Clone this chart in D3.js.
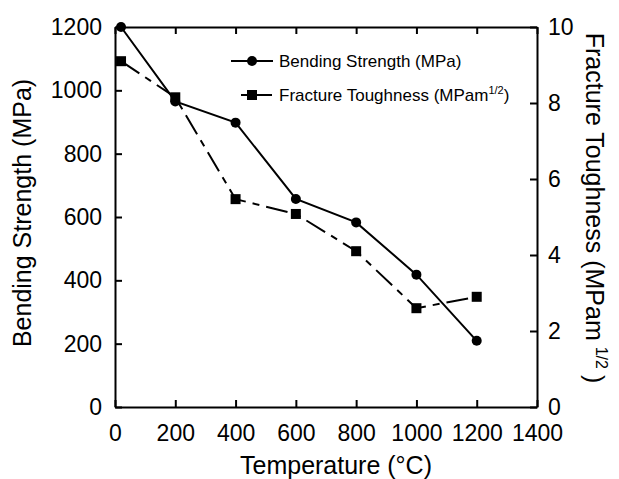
<!DOCTYPE html>
<html lang="en">
<head>
<meta charset="UTF-8">
<title>Bending strength and fracture toughness</title>
<script src="https://cdn.jsdelivr.net/npm/d3@7"></script>
<style>
    body { margin: 0; background: #fff; }
    svg { display: block; font-family: "Liberation Sans", Arial, sans-serif; }
    .axis path, .axis line { stroke: #000; stroke-width: 2px; }
    .axis text { font-size: 23px; fill: #000; }
    .title { font-size: 25px; fill: #000; }
    .legend text { font-size: 17px; fill: #000; }
</style>
</head>
<body>
<script>
    // Data
    const temperature = [20, 200, 400, 600, 800, 1000, 1200];
    const bendingStrength = [1200, 965, 898, 657, 583, 418, 209];
    const fractureToughness = [9.1, 8.15, 5.47, 5.08, 4.1, 2.6, 2.9];

    const xTicks = [0, 200, 400, 600, 800, 1000, 1200, 1400];
    const yLeftTicks = [0, 200, 400, 600, 800, 1000, 1200];
    const yRightTicks = [0, 2, 4, 6, 8, 10];

    // SVG
    const width = 619, height = 479;
    const margins = {top: 27, right: 82, bottom: 72, left: 115};
    const svg = d3.select("body").append("svg")
        .attr("width", width)
        .attr("height", height);

    // Scales
    const x = d3.scaleLinear().domain([0, 1400]).range([margins.left, width - margins.right]);
    const yL = d3.scaleLinear().domain([0, 1200]).range([height - margins.bottom, margins.top]);
    const yR = d3.scaleLinear().domain([0, 10]).range([height - margins.bottom, margins.top]);

    // Axes (ticks pointing inward)
    svg.append("g").attr("class", "axis")
        .attr("transform", `translate(0,${height - margins.bottom})`)
        .call(d3.axisBottom(x).tickValues(xTicks).tickSizeInner(-7).tickSizeOuter(0).tickPadding(18).tickFormat(d3.format("d")));
    svg.append("g").attr("class", "axis")
        .attr("transform", `translate(0,${margins.top})`)
        .call(d3.axisTop(x).tickValues(xTicks).tickSizeInner(-7).tickSizeOuter(0).tickFormat(""));
    svg.append("g").attr("class", "axis")
        .attr("transform", `translate(${margins.left},0)`)
        .call(d3.axisLeft(yL).tickValues(yLeftTicks).tickSizeInner(-7).tickSizeOuter(0).tickPadding(13).tickFormat(d3.format("d")));
    svg.append("g").attr("class", "axis")
        .attr("transform", `translate(${width - margins.right},0)`)
        .call(d3.axisRight(yR).tickValues(yRightTicks).tickSizeInner(-7).tickSizeOuter(0).tickPadding(11).tickFormat(d3.format("d")));
    svg.selectAll(".axis .domain").attr("fill", "none");

    // Lines
    const bendData = temperature.map((t, i) => ({t: t, v: bendingStrength[i]}));
    const fracData = temperature.map((t, i) => ({t: t, v: fractureToughness[i]}));

    svg.append("path")
        .datum(fracData)
        .attr("fill", "none")
        .attr("stroke", "#000")
        .attr("stroke-width", 2)
        .attr("stroke-dasharray", "22,7,7,7")
        .attr("d", d3.line().x(d => x(d.t)).y(d => yR(d.v)));

    svg.append("path")
        .datum(bendData)
        .attr("fill", "none")
        .attr("stroke", "#000")
        .attr("stroke-width", 2)
        .attr("d", d3.line().x(d => x(d.t)).y(d => yL(d.v)));

    // Markers
    svg.selectAll(".sq")
        .data(fracData)
        .enter().append("rect")
        .attr("x", d => x(d.t) - 5)
        .attr("y", d => yR(d.v) - 5)
        .attr("width", 10).attr("height", 10)
        .attr("fill", "#000");
    svg.selectAll(".dot")
        .data(bendData)
        .enter().append("circle")
        .attr("cx", d => x(d.t))
        .attr("cy", d => yL(d.v))
        .attr("r", 5)
        .attr("fill", "#000");

    // Legend
    const legend = svg.append("g").attr("class", "legend");
    legend.append("line").attr("x1", 231).attr("x2", 273).attr("y1", 61).attr("y2", 61).attr("stroke", "#000").attr("stroke-width", 2);
    legend.append("circle").attr("cx", 252).attr("cy", 61).attr("r", 5).attr("fill", "#000");
    legend.append("text").attr("x", 279).attr("y", 67).text("Bending Strength (MPa)");
    legend.append("line").attr("x1", 241).attr("x2", 272).attr("y1", 95).attr("y2", 95).attr("stroke", "#000").attr("stroke-width", 2);
    legend.append("rect").attr("x", 247).attr("y", 90).attr("width", 10).attr("height", 10).attr("fill", "#000");
    const lt = legend.append("text").attr("x", 279).attr("y", 101).text("Fracture Toughness (MPam");
    lt.append("tspan").attr("dy", -7).style("font-size", "11px").text("1/2");
    lt.append("tspan").attr("dy", 7).text(")");

    // Axis titles
    svg.append("text").attr("class", "title")
        .attr("x", (margins.left + width - margins.right) / 2 + 10)
        .attr("y", 474)
        .attr("text-anchor", "middle")
        .text("Temperature (°C)");
    svg.append("text").attr("class", "title")
        .attr("transform", "translate(31,213) rotate(-90)")
        .attr("text-anchor", "middle")
        .text("Bending Strength (MPa)");
    const rt = svg.append("text").attr("class", "title")
        .attr("transform", "translate(586,208) rotate(90)")
        .attr("text-anchor", "middle")
        .text("Fracture Toughness (MPam");
    rt.append("tspan").attr("dx", 6).attr("dy", -10).style("font-size", "16px").text("1/2");
    rt.append("tspan").attr("dx", 6).attr("dy", 10).text(")");
</script>
</body>
</html>
